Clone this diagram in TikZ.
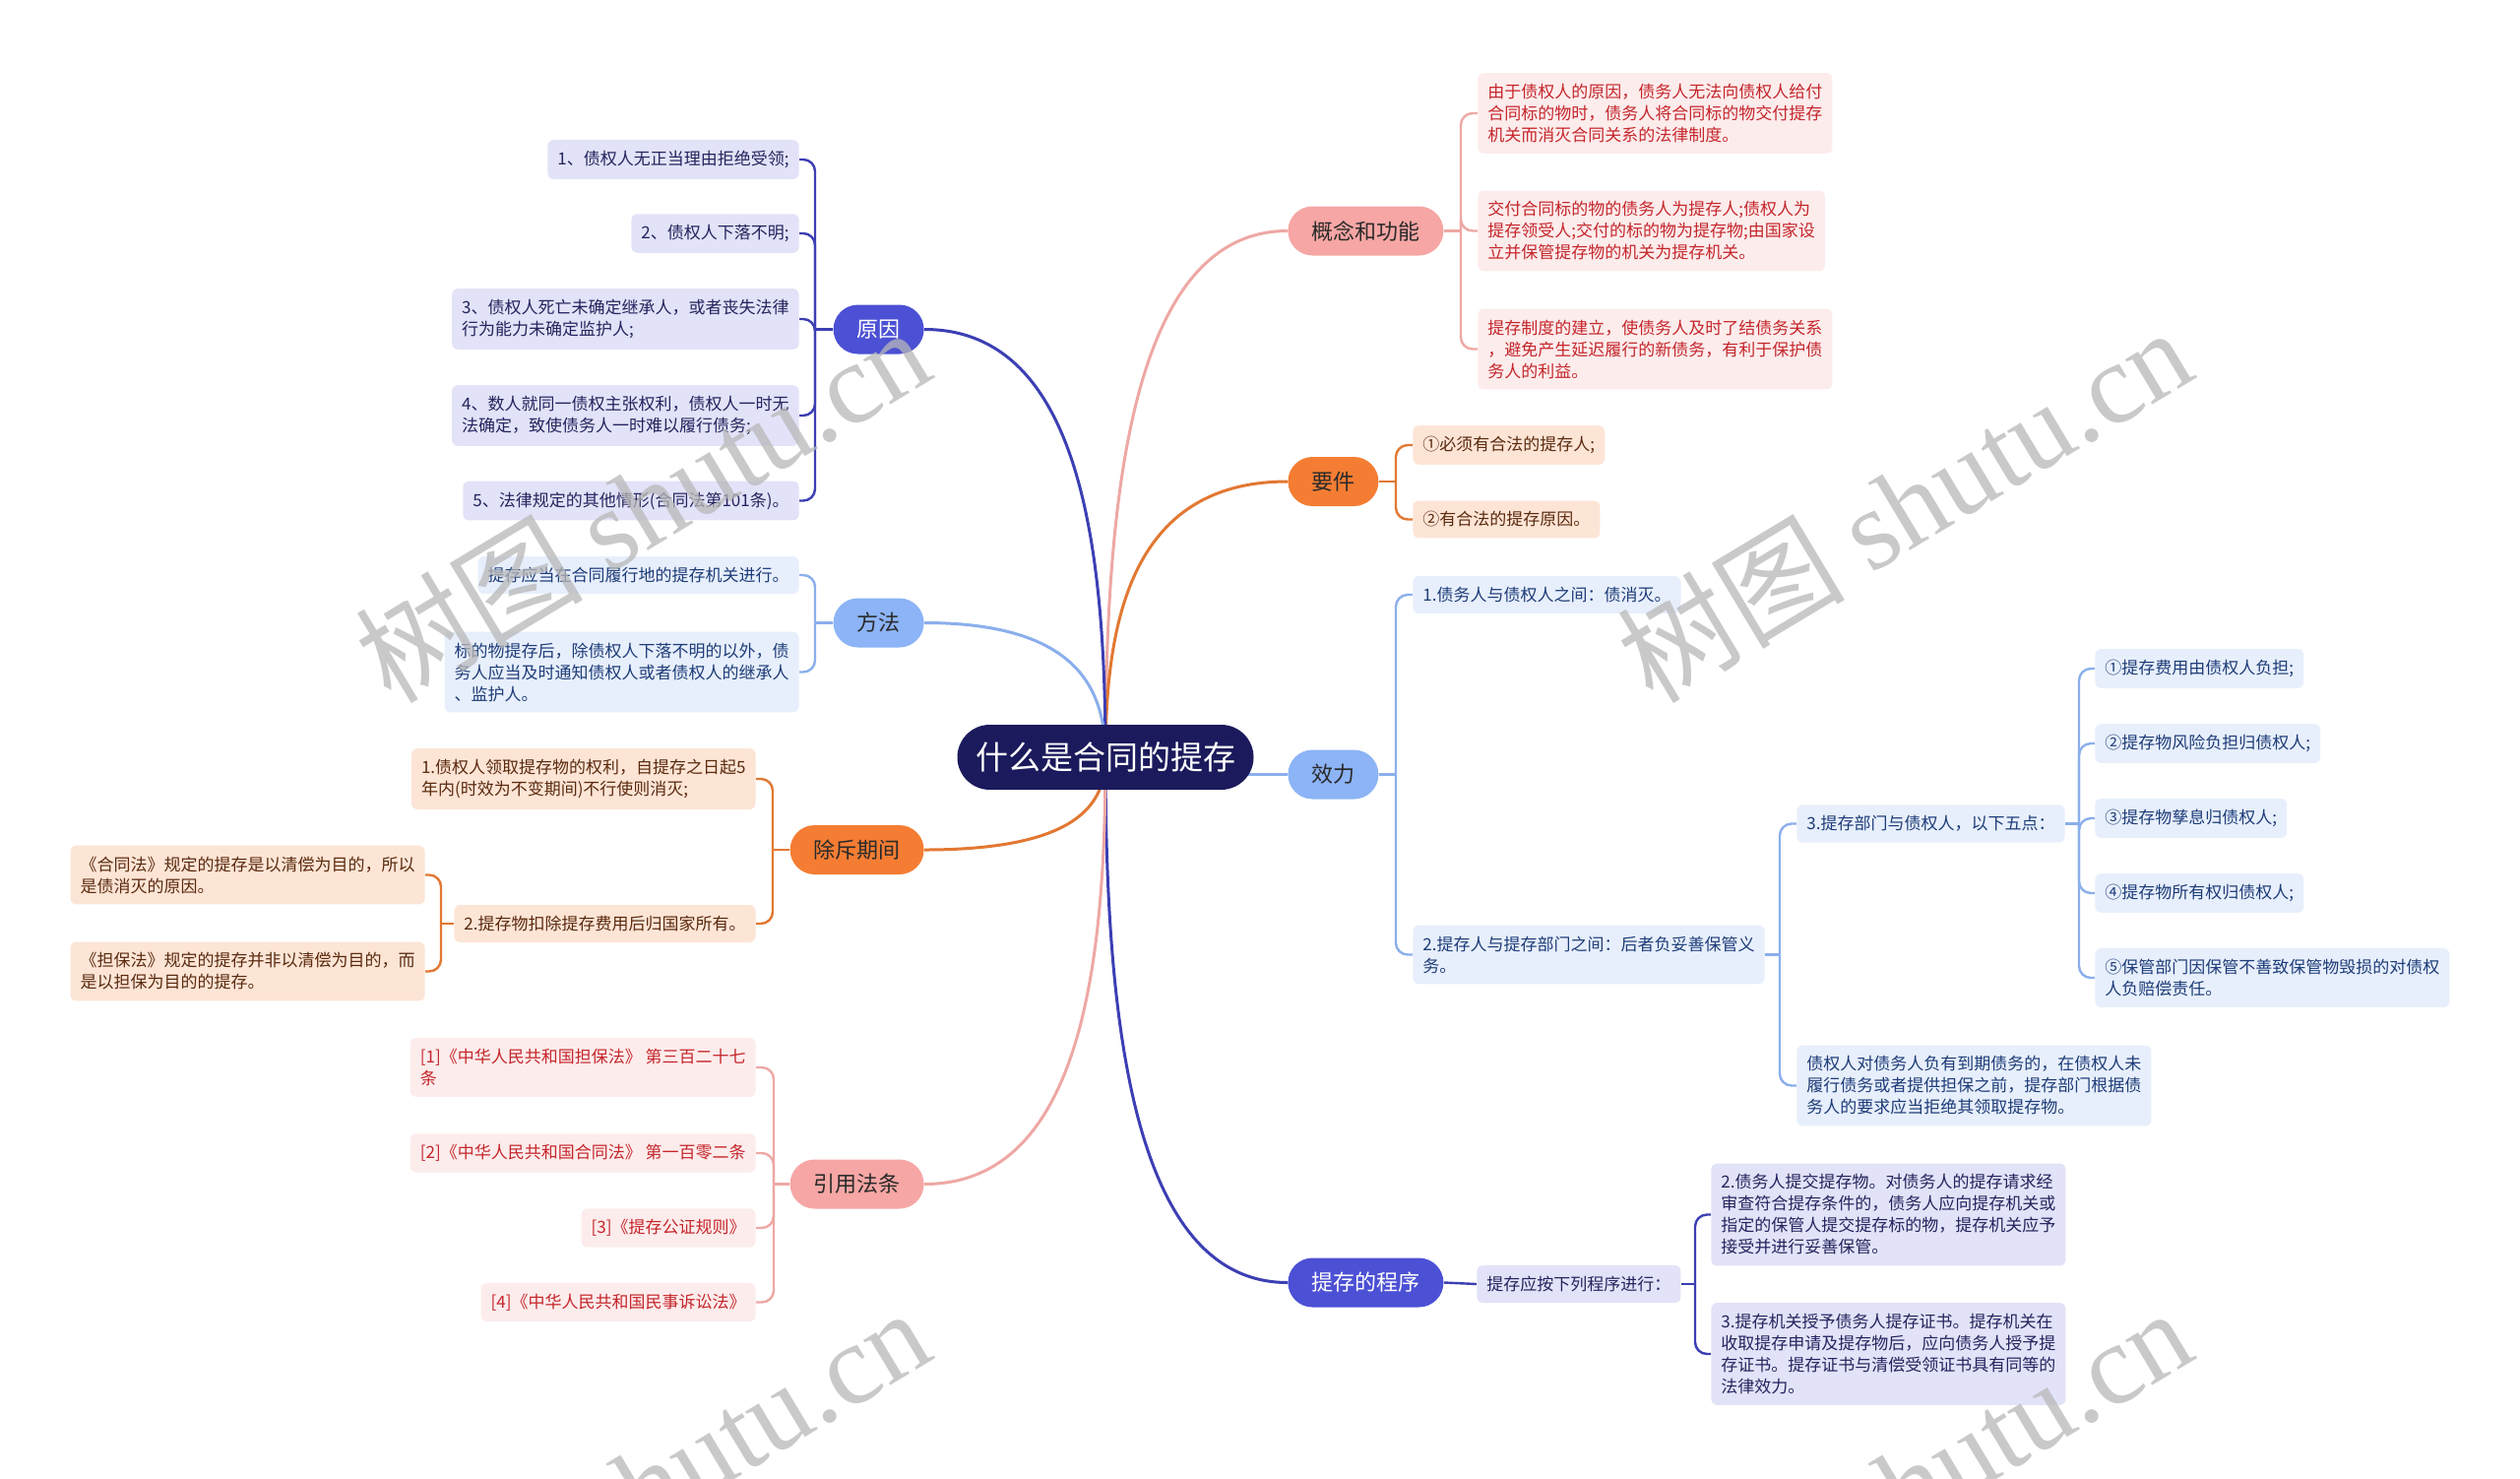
\documentclass[tikz,border=0pt]{standalone}
\usepackage{fontspec}
\setmainfont{Noto Sans CJK SC}
\newfontfamily\wmlatin{Liberation Serif}
\usetikzlibrary{backgrounds}
\definecolor{rootc}{HTML}{1B1A5C}
\definecolor{indigo}{HTML}{4C50D4}
\definecolor{indigoL}{HTML}{3C3FB3}
\definecolor{indigoB}{HTML}{E2E2F8}
\definecolor{indigoT}{HTML}{24245E}
\definecolor{sky}{HTML}{8CB4F6}
\definecolor{skyL}{HTML}{8BAFEC}
\definecolor{skyB}{HTML}{E7EFFC}
\definecolor{skyT}{HTML}{1E3C78}
\definecolor{orng}{HTML}{F47D33}
\definecolor{orngL}{HTML}{E27832}
\definecolor{orngB}{HTML}{FDE5D6}
\definecolor{orngT}{HTML}{5A2A0E}
\definecolor{pnk}{HTML}{F6A6A4}
\definecolor{pnkL}{HTML}{EEA8A4}
\definecolor{pnkB}{HTML}{FDECEC}
\definecolor{pnkT}{HTML}{C4262B}
\definecolor{darkT}{HTML}{2A2A2A}
\definecolor{wmc}{HTML}{B8B8B8}
\begin{document}
\begin{tikzpicture}[x=0.5pt,y=-0.5pt,
  rootnode/.style={fill=rootc, text=white, rounded corners=16.5pt, minimum width=150.5pt, minimum height=33pt, inner sep=0pt, font=\fontsize{16.5}{20}\selectfont},
  br/.style={rounded corners=12.5pt, minimum height=25pt, inner xsep=12pt, inner ysep=0pt, font=\fontsize{11}{13}\selectfont},
  leaf/.style={rounded corners=3pt, inner xsep=5pt, inner ysep=5.5pt, align=left, font=\fontsize{8.5}{11}\selectfont},
  pleaf/.style={leaf, fill=pnkB, text=pnkT},
  oleaf/.style={leaf, fill=orngB, text=orngT},
  sleaf/.style={leaf, fill=skyB, text=skyT},
  ileaf/.style={leaf, fill=indigoB, text=indigoT},
  mainline/.style={line width=1.5pt},
  brk/.style={line width=1.2pt, rounded corners=6pt},
  wm/.style={text=wmc, opacity=0.75, rotate=31, font=\fontsize{58}{60}\selectfont, inner sep=0pt}
]
\useasboundingbox (0,0) rectangle (2560,1501);

% root and branches
\node[rootnode] (root) at (1123,769) {什么是合同的提存};
\node[br, fill=pnk, text=darkT, anchor=west] (gn) at (1308,234.5) {概念和功能};
\node[br, fill=orng, text=darkT, anchor=west] (yj) at (1308,489) {要件};
\node[br, fill=sky, text=darkT, anchor=west] (xl) at (1308,786.5) {效力};
\node[br, fill=indigo, text=white, anchor=west] (cx) at (1308,1302.5) {提存的程序};
\node[br, fill=indigo, text=white, anchor=east] (yy) at (939,334.5) {原因};
\node[br, fill=sky, text=darkT, anchor=east] (ff) at (939,632.5) {方法};
\node[br, fill=orng, text=darkT, anchor=east] (cc) at (939,863) {除斥期间};
\node[br, fill=pnk, text=darkT, anchor=east] (yf) at (939,1202.5) {引用法条};

% 概念和功能
\node[pleaf, anchor=west] (gn1) at (1501,115) {由于债权人的原因，债务人无法向债权人给付\\合同标的物时，债务人将合同标的物交付提存\\机关而消灭合同关系的法律制度。};
\node[pleaf, anchor=west] (gn2) at (1501,234.5) {交付合同标的物的债务人为提存人;债权人为\\提存领受人;交付的标的物为提存物;由国家设\\立并保管提存物的机关为提存机关。};
\node[pleaf, anchor=west] (gn3) at (1501,354.5) {提存制度的建立，使债务人及时了结债务关系\\，避免产生延迟履行的新债务，有利于保护债\\务人的利益。};

% 要件
\node[oleaf, anchor=west] (yj1) at (1435,452) {①必须有合法的提存人;};
\node[oleaf, anchor=west] (yj2) at (1435,527.5) {②有合法的提存原因。};

% 效力
\node[sleaf, anchor=west] (xl1) at (1435,604) {1.债务人与债权人之间：债消灭。};
\node[sleaf, anchor=west] (xl2) at (1435,969.5) {2.提存人与提存部门之间：后者负妥善保管义\\务。};
\node[sleaf, anchor=west] (xl3) at (1825,836.5) {3.提存部门与债权人，以下五点：};
\node[sleaf, anchor=west] (xl4) at (1825,1102.5) {债权人对债务人负有到期债务的，在债权人未\\履行债务或者提供担保之前，提存部门根据债\\务人的要求应当拒绝其领取提存物。};
\node[sleaf, anchor=west] (f1) at (2128,679) {①提存费用由债权人负担;};
\node[sleaf, anchor=west] (f2) at (2128,755) {②提存物风险负担归债权人;};
\node[sleaf, anchor=west] (f3) at (2128,831) {③提存物孳息归债权人;};
\node[sleaf, anchor=west] (f4) at (2128,907) {④提存物所有权归债权人;};
\node[sleaf, anchor=west] (f5) at (2128,993) {⑤保管部门因保管不善致保管物毁损的对债权\\人负赔偿责任。};

% 提存的程序
\node[ileaf, anchor=west] (cx1) at (1500,1304) {提存应按下列程序进行：};
\node[ileaf, anchor=west] (cx2) at (1738,1233.5) {2.债务人提交提存物。对债务人的提存请求经\\审查符合提存条件的，债务人应向提存机关或\\指定的保管人提交提存标的物，提存机关应予\\接受并进行妥善保管。};
\node[ileaf, anchor=west] (cx3) at (1738,1375) {3.提存机关授予债务人提存证书。提存机关在\\收取提存申请及提存物后，应向债务人授予提\\存证书。提存证书与清偿受领证书具有同等的\\法律效力。};

% 原因
\node[ileaf, anchor=east] (yy1) at (812,162) {1、债权人无正当理由拒绝受领;};
\node[ileaf, anchor=east] (yy2) at (812,237) {2、债权人下落不明;};
\node[ileaf, anchor=east] (yy3) at (812,324) {3、债权人死亡未确定继承人，或者丧失法律\\行为能力未确定监护人;};
\node[ileaf, anchor=east] (yy4) at (812,422) {4、数人就同一债权主张权利，债权人一时无\\法确定，致使债务人一时难以履行债务;};
\node[ileaf, anchor=east] (yy5) at (812,508.5) {5、法律规定的其他情形(合同法第101条)。};

% 方法
\node[sleaf, anchor=east] (ff1) at (812,584) {提存应当在合同履行地的提存机关进行。};
\node[sleaf, anchor=east] (ff2) at (812,682.5) {标的物提存后，除债权人下落不明的以外，债\\务人应当及时通知债权人或者债权人的继承人\\、监护人。};

% 除斥期间
\node[oleaf, anchor=east] (cc1) at (768,791) {1.债权人领取提存物的权利，自提存之日起5\\年内(时效为不变期间)不行使则消灭;};
\node[oleaf, anchor=east] (cc2) at (768,938) {2.提存物扣除提存费用后归国家所有。};
\node[oleaf, anchor=east] (cc3) at (432,888.5) {《合同法》规定的提存是以清偿为目的，所以\\是债消灭的原因。};
\node[oleaf, anchor=east] (cc4) at (432,986.5) {《担保法》规定的提存并非以清偿为目的，而\\是以担保为目的的提存。};

% 引用法条
\node[pleaf, anchor=east] (yf1) at (768,1084) {[1]《中华人民共和国担保法》 第三百二十七\\条};
\node[pleaf, anchor=east] (yf2) at (768,1171) {[2]《中华人民共和国合同法》 第一百零二条};
\node[pleaf, anchor=east] (yf3) at (768,1247) {[3]《提存公证规则》};
\node[pleaf, anchor=east] (yf4) at (768,1322.5) {[4]《中华人民共和国民事诉讼法》};

% trunk coordinates
\coordinate (gnT) at (1484,234.5);
\coordinate (yjT) at (1418,489);
\coordinate (xlT) at (1418,786.5);
\coordinate (xl2T) at (1808,969.5);
\coordinate (xl3T) at (2112,836.5);
\coordinate (cxT) at (1722,1304);
\coordinate (yyT) at (828,334.5);
\coordinate (ffT) at (828,632.5);
\coordinate (ccT) at (785,863);
\coordinate (cc2T) at (448,938);
\coordinate (yfT) at (786,1202.5);

\begin{scope}[on background layer]
  \fill[white] (0,0) rectangle (2560,1501);
  % root connectors
  \draw[mainline, pnkL] (root.center) .. controls (1123,501.5) and (1150,234.5) .. (gn.west);
  \draw[mainline, orngL] (root.center) .. controls (1123,629) and (1150,489) .. (yj.west);
  \draw[mainline, skyL] ([xshift=-15pt]root.east |- xl.west) -- (xl.west);
  \draw[mainline, indigoL] (root.center) .. controls (1123,1035.5) and (1150,1302.5) .. (cx.west);
  \draw[mainline, indigoL] (root.center) .. controls (1123,552) and (1096,334.5) .. (yy.east);
  \draw[mainline, skyL] (root.center) .. controls (1123,701) and (1096,632.5) .. (ff.east);
  \draw[mainline, orngL] (root.center) .. controls (1123,816) and (1096,863) .. (cc.east);
  \draw[mainline, pnkL] (root.center) .. controls (1123,986) and (1096,1202.5) .. (yf.east);

  % 概念和功能
  \draw[brk, pnkL] (gn.east) -- (gnT);
  \foreach \c in {gn1,gn2,gn3} \draw[brk, pnkL] (gnT) |- (\c.west);
  % 要件
  \draw[brk, orngL] (yj.east) -- (yjT);
  \foreach \c in {yj1,yj2} \draw[brk, orngL] (yjT) |- (\c.west);
  % 效力
  \draw[brk, skyL] (xl.east) -- (xlT);
  \foreach \c in {xl1,xl2} \draw[brk, skyL] (xlT) |- (\c.west);
  \draw[brk, skyL] (xl2.east) -- (xl2T);
  \foreach \c in {xl3,xl4} \draw[brk, skyL] (xl2T) |- (\c.west);
  \draw[brk, skyL] (xl3.east) -- (xl3T);
  \foreach \c in {f1,f2,f3,f4,f5} \draw[brk, skyL] (xl3T) |- (\c.west);
  % 提存的程序
  \draw[brk, indigoL] (cx.east) -- (cx1.west);
  \draw[brk, indigoL] (cx1.east) -- (cxT);
  \foreach \c in {cx2,cx3} \draw[brk, indigoL] (cxT) |- (\c.west);
  % 原因
  \draw[brk, indigoL] (yy.west) -- (yyT);
  \foreach \c in {yy1,yy2,yy3,yy4,yy5} \draw[brk, indigoL] (yyT) |- (\c.east);
  % 方法
  \draw[brk, skyL] (ff.west) -- (ffT);
  \foreach \c in {ff1,ff2} \draw[brk, skyL] (ffT) |- (\c.east);
  % 除斥期间
  \draw[brk, orngL] (cc.west) -- (ccT);
  \foreach \c in {cc1,cc2} \draw[brk, orngL] (ccT) |- (\c.east);
  \draw[brk, orngL] (cc2.west) -- (cc2T);
  \foreach \c in {cc3,cc4} \draw[brk, orngL] (cc2T) |- (\c.east);
  % 引用法条
  \draw[brk, pnkL] (yf.west) -- (yfT);
  \foreach \c in {yf1,yf2,yf3,yf4} \draw[brk, pnkL] (yfT) |- (\c.east);
\end{scope}

% watermarks
\begin{scope}
  \clip (0,0) rectangle (2560,1501);
  \node[wm] (w1) at (652,512) {树图 {\wmlatin shutu.cn}};
  \node[wm] (w2) at (1934,512) {树图 {\wmlatin shutu.cn}};
  \node[wm] (w3) at (652,1508) {树图 {\wmlatin shutu.cn}};
  \node[wm] (w4) at (1934,1508) {树图 {\wmlatin shutu.cn}};
\end{scope}
\end{tikzpicture}
\end{document}
